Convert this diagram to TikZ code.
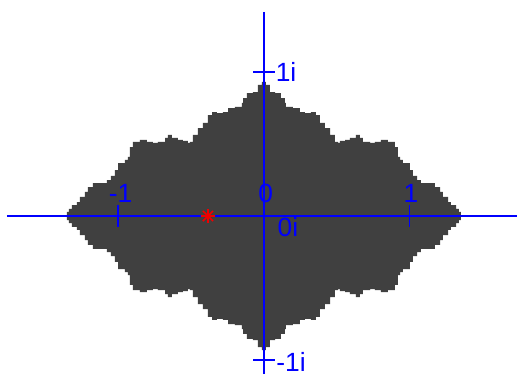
\documentclass[tikz,border=0pt]{standalone}
\usepackage{fontspec}
\setmainfont{Liberation Sans}
\usepackage{tikz}
\usetikzlibrary{calc,positioning}
\definecolor{juliaGrey}{RGB}{64,64,64}
\definecolor{axisBlue}{RGB}{0,0,255}
\definecolor{seedRed}{RGB}{240,0,0}

% upper-right quarter of the filled set, from the tip on the real axis to the tip on the imaginary axis
\def\quarter{1.354/0.028, 1.340/0.049, 1.320/0.076, 1.285/0.097, 1.265/0.132, 1.230/0.167,
  1.210/0.201, 1.175/0.229, 1.107/0.229, 1.079/0.250, 1.052/0.278, 1.024/0.319, 1.003/0.368,
  0.955/0.389, 0.935/0.410, 0.921/0.479, 0.900/0.514, 0.852/0.528, 0.804/0.514, 0.763/0.507,
  0.729/0.514, 0.680/0.542, 0.660/0.563, 0.632/0.542, 0.591/0.528, 0.557/0.521, 0.522/0.507,
  0.509/0.514, 0.488/0.563, 0.454/0.611, 0.419/0.646, 0.385/0.701, 0.357/0.722, 0.323/0.715,
  0.282/0.722, 0.247/0.750, 0.199/0.757, 0.151/0.785, 0.144/0.819, 0.117/0.854, 0.076/0.861,
  0.041/0.910, 0.014/0.931, 0/0.944}

\begin{document}
\begin{tikzpicture}[x=2.91cm, y=2.88cm,
  every node/.style={font=\fontsize{15}{17}\selectfont, text=axisBlue, inner sep=0pt},
  axis/.style={axisBlue, line width=1.1pt},
  ticks/.style={axisBlue, line width=1.1pt}]
  \useasboundingbox (-1.814,-1.097) rectangle (1.739,1.5);
  % ---------------- FILLED SET ----------------
  \foreach \sx/\sy in {1/1,-1/1,1/-1,-1/-1}{
    \begin{scope}[xscale=\sx, yscale=\sy]
      \fill[juliaGrey] (0,0) -- (1.361,0) foreach \px/\py in \quarter { -| (\px,\py) } -- cycle;
    \end{scope}
  }
  % ---------------- AXES ----------------
  \coordinate (west) at (-1.766,0);
  \coordinate (east) at (1.739,0);
  \coordinate (north) at (0,1.417);
  \coordinate (south) at (0,-1.097);
  \draw[axis] (west) -- (east);
  \draw[axis] (north) -- (south);
  \foreach \t in {-1,1}{
    \draw[ticks] (\t,0.075) -- (\t,-0.075);
    \draw[ticks] (-0.075,\t) -- (0.075,\t);
  }
  % ---------------- LABELS ----------------
  \node (lm1) at (-0.985,0.16) {-1};
  \node (l0) at (0.012,0.16) {0};
  \node (l1) at (1.01,0.16) {1};
  \node (l0i) at (0.165,-0.076) {0i};
  \node (l1i) at (0.152,1.0) {1i};
  \node (lm1i) at (0.186,-1.01) {-1i};
  % ---------------- SEED ----------------
  \coordinate (seed) at (-0.385,0);
  \foreach \a in {0,45,90,135}{
    \draw[seedRed, line width=0.9pt] ($(seed)+(\a:0.05)$) -- ($(seed)+(\a+180:0.05)$);
  }
\end{tikzpicture}
\end{document}
